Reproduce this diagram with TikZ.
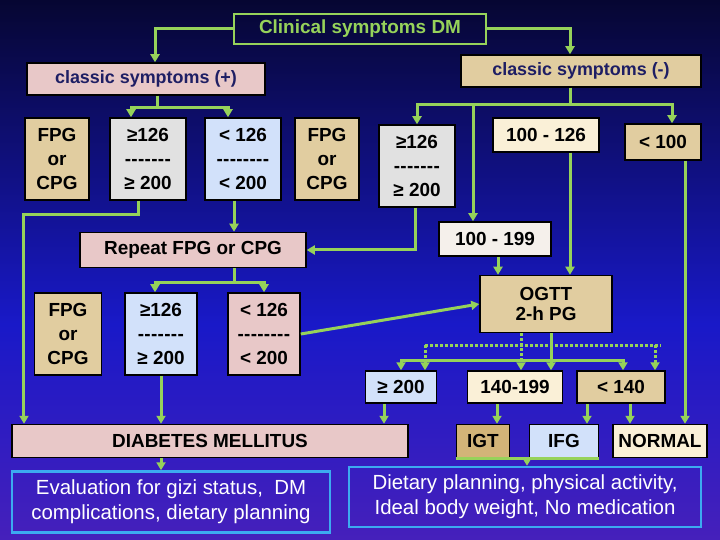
\documentclass[tikz,border=0pt]{standalone}
\usepackage{fontspec}
\setmainfont{Liberation Sans}
\usetikzlibrary{arrows.meta}
\definecolor{gr}{RGB}{150,210,90}
\definecolor{pk}{RGB}{232,200,200}
\definecolor{tn}{RGB}{225,205,160}
\definecolor{cr}{RGB}{250,240,215}
\definecolor{gy}{RGB}{225,225,225}
\definecolor{lb}{RGB}{210,225,250}
\definecolor{wt}{RGB}{245,240,235}
\definecolor{dt}{RGB}{210,180,120}
\definecolor{nv}{RGB}{30,30,100}
\definecolor{cy}{RGB}{60,170,240}
\definecolor{bgb}{RGB}{25,25,200}
\definecolor{bgp}{RGB}{125,40,170}
\pgfdeclareverticalshading{bgsh}{100bp}{color(0bp)=(bgp); color(45bp)=(bgb); color(85bp)=(black); color(100bp)=(black)}
\newcommand{\dd}{-\kern0.3bp}
\tikzset{
 bx/.style={draw=black,line width=1.5bp,inner sep=0pt,align=center,font=\bfseries\fontsize{19}{24}\selectfont,text=black},
 ob/.style={draw=cy,line width=2.5bp,inner sep=0pt,align=center,font=\fontsize{20.5}{25}\selectfont,text=white},
 ln/.style={draw=gr,line width=3bp},
 ar/.style={ln,-{Triangle[width=9bp,length=8bp]}},
 dl/.style={ln,dash pattern=on 3bp off 2bp},
 da/.style={dl,-{Triangle[width=9bp,length=8bp]}},
 sz/.style 2 args={minimum width=#1bp,minimum height=#2bp},
}
\begin{document}
\begin{tikzpicture}[x=1bp,y=-1bp]
\useasboundingbox (0,0) rectangle (720,540);
\shade[shading=bgsh] (0,0) rectangle (720,540);
\node[bx,draw=gr,fill=none,text=gr,sz={252}{30}] (clin) at (360,29) {Clinical symptoms DM};
\node[bx,fill=pk,text=nv,font=\bfseries\fontsize{18}{20}\selectfont,sz={238}{32}] (cplus) at (146,79) {classic symptoms (+)};
\node[bx,fill=tn,text=nv,font=\bfseries\fontsize{18}{20}\selectfont,sz={240}{32}] (cminus) at (581,71) {classic symptoms (-)};
\node[bx,fill=tn,sz={64}{82}] (f1) at (57,159) {FPG\\or\\CPG};
\node[bx,fill=gy,sz={76}{82}] (g1) at (148,159) {≥126\\\dd\dd\dd\dd\dd\dd\dd\\≥ 200};
\node[bx,fill=lb,sz={76}{82}] (l1) at (243,159) {< 126\\\dd\dd\dd\dd\dd\dd\dd\dd\\< 200};
\node[bx,fill=tn,sz={64}{82}] (f2) at (327,159) {FPG\\or\\CPG};
\node[bx,fill=gy,sz={76}{82}] (g2) at (417,166) {≥126\\\dd\dd\dd\dd\dd\dd\dd\\≥ 200};
\node[bx,fill=cr,sz={106}{34}] (h1) at (546,135) {100 - 126};
\node[bx,fill=tn,sz={76}{36}] (h2) at (663,142) {< 100};
\node[bx,fill=pk,sz={226}{35}] (rep) at (193,250) {Repeat FPG or CPG};
\node[bx,fill=wt,sz={112}{34}] (h3) at (495,239) {100 - 199};
\node[bx,fill=tn,sz={67}{82}] (f3) at (68,334) {FPG\\or\\CPG};
\node[bx,fill=lb,sz={72}{82}] (g3) at (161,334) {≥126\\\dd\dd\dd\dd\dd\dd\dd\\≥ 200};
\node[bx,fill=pk,sz={72}{82}] (l3) at (264,334) {< 126\\\dd\dd\dd\dd\dd\dd\dd\dd\\< 200};
\node[bx,fill=tn,sz={132}{57}] (ogtt) at (546,304) {OGTT\\[-4bp]2-h PG};
\node[bx,fill=lb,sz={71}{32}] (o1) at (401,387) {≥ 200};
\node[bx,fill=cr,sz={95}{32}] (o2) at (515,387) {140-199};
\node[bx,fill=tn,sz={88}{32}] (o3) at (621,387) {< 140};
\node[bx,fill=pk,sz={396}{33}] (dm) at (210,441) {DIABETES MELLITUS};
\node[bx,fill=dt,sz={53}{33}] (igt) at (483,441) {IGT};
\node[bx,fill=lb,sz={69}{33}] (ifg) at (564,441) {IFG};
\node[bx,fill=cr,sz={94}{33}] (nor) at (660,441) {NORMAL};
\node[ob,sz={318}{61}] (ev) at (171,502) {Evaluation for gizi status,\ \ DM\\complications, dietary planning};
\node[ob,sz={352}{60}] (dp) at (525,497) {Dietary planning, physical activity,\\Ideal body weight, No medication};
% connectors
\draw[ar] (clin.west) -| ([xshift=9bp]cplus.north);
\draw[ar] (clin.east) -| ([xshift=-11bp]cminus.north);
\draw[ln] ([xshift=11bp]cplus.south) -- ++(0,12) coordinate (j1);
\draw[ar] (j1) -| ([xshift=-17bp]g1.north);
\draw[ar] (j1) -| ([xshift=-15bp]l1.north);
\draw[ar] ([xshift=-10bp]g1.south) -- ++(0,14) -| ([xshift=-186bp]dm.north);
\draw[ar] ([xshift=-9bp]l1.south) -- ([xshift=-9bp]l1.south |- rep.north);
\draw[ar] ([xshift=-2bp]g2.south) |- (rep.east);
\draw[ln] ([xshift=-11bp]cminus.south) -- ++(0,17) coordinate (j2);
\draw[ar] (j2) -| (g2.north);
\draw[ar] (j2) -| ([xshift=9bp]h2.north);
\draw[ar] ([xshift=-22bp]h3.north |- j2) -- ([xshift=-22bp]h3.north);
\draw[ar] ([xshift=24bp]h1.south) -- ([xshift=24bp]ogtt.north);
\draw[ar] ([xshift=3bp]h3.south) -- ([xshift=3bp]h3.south |- ogtt.north);
\draw[ar] ([xshift=22bp]h2.south) -- ([xshift=22bp]h2.south |- nor.north);
\draw[ln] ([xshift=41bp]rep.south) -- ++(0,14) coordinate (j3);
\draw[ar] (j3) -| ([xshift=-6bp]g3.north);
\draw[ar] (j3) -| (l3.north);
\draw[ar] (l3.east) -- (ogtt.west);
\draw[ar] (g3.south) -- (g3.south |- dm.north);
\draw[da] ([xshift=-25bp]ogtt.south) -- ([xshift=-25bp]ogtt.south |- o2.north);
\draw[ln] ([xshift=5bp]ogtt.south) -- ++(0,27) coordinate (j4);
\draw[ar] (j4) -| (o1.north);
\draw[ar] (j4) -| ([xshift=2bp]o3.north);
\draw[ar] (j4) -- (j4 |- o2.north);
\coordinate (d1) at (425,345);
\coordinate (d2) at (661,345);
\coordinate (d3) at (655,345);
\draw[dl] (d1) -- (d2);
\draw[da] (d1) -- (d1 |- o1.north);
\draw[da] (d3) -- (d3 |- o3.north);
\draw[ar] ([xshift=-17bp]o1.south) -- ([xshift=-17bp]o1.south |- dm.north);
\draw[ar] ([xshift=-18bp]o2.south) -- ([xshift=-18bp]o2.south |- igt.north);
\draw[ar] ([xshift=-34bp]o3.south) -- ([xshift=-34bp]o3.south |- ifg.north);
\draw[ar] ([xshift=9bp]o3.south) -- ([xshift=9bp]o3.south |- nor.north);
\draw[ln] (igt.south west) -- (ifg.south east);
\draw[ar] ([xshift=2bp]dp.north |- igt.south) -- ([xshift=2bp]dp.north);
\draw[ar] ([xshift=-49bp]dm.south) -- ([xshift=-49bp]dm.south |- ev.north);
\end{tikzpicture}
\end{document}
